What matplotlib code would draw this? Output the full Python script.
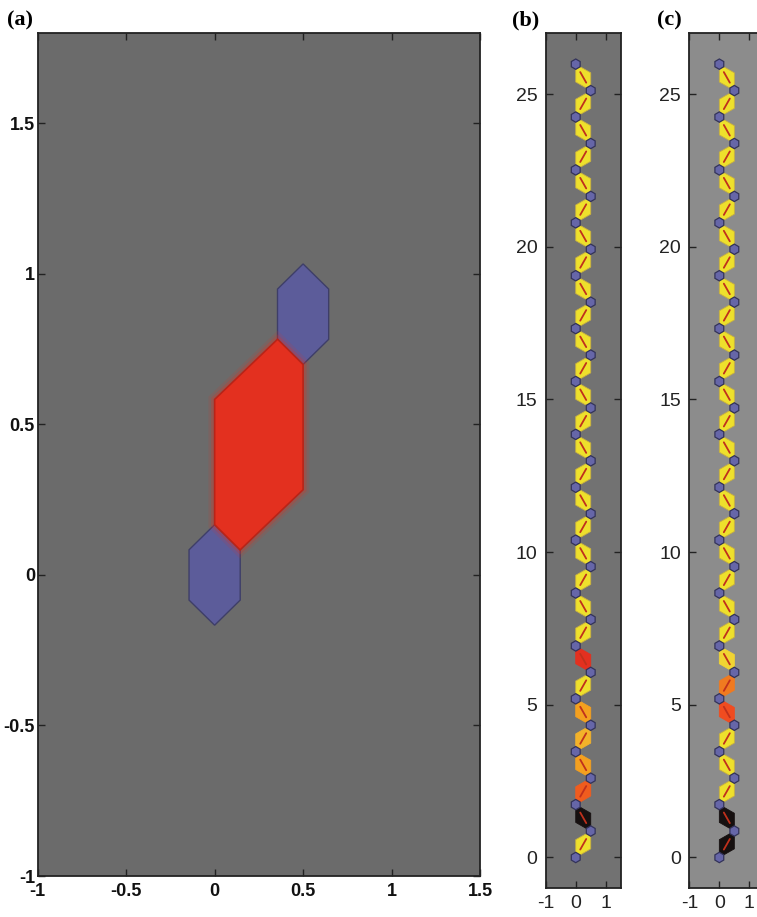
import numpy as np
import matplotlib.pyplot as plt
from matplotlib.patches import Polygon, RegularPolygon

plt.rcParams['axes.unicode_minus'] = False

# one bond goes from a site at the origin to the site at (0.5, 0.866)
bond_dx = 0.5
bond_dy = 0.866
site_r = 0.17
# elongated hexagon drawn round one bond
bond_hex_x = [0.0, 0.144, 0.5, 0.5, 0.356, 0.0]
bond_hex_y = [0.167, 0.083, 0.283, 0.699, 0.783, 0.583]

n_sites = 31

Y = '#eee02c'
K = '#161010'
R = '#e3301f'
OR = '#f05c1e'
O = '#f4a01f'
LO = '#f3b22a'

# bond colours, bottom to top
colors_b = [Y, K, OR, O, LO, O, Y, R] + [Y] * 22
colors_c = [K, K, Y, Y, Y, '#f04c20', '#f07a20', '#f1d432'] + [Y] * 22

xticks_a = [-1, -0.5, 0, 0.5, 1, 1.5]
xtick_labels_a = ['-1', '-0.5', '0', '0.5', '1', '1.5']
yticks_a = [-1, -0.5, 0, 0.5, 1, 1.5]
ytick_labels_a = ['-1', '-0.5', '0', '0.5', '1', '1.5']

xticks_bc = [-1, 0, 1]
yticks_bc = [0, 5, 10, 15, 20, 25]

BLUE = '#5c5c9a'
BLUE_EDGE = '#3e3e68'


def bond_polygon(x0, y0, up_right, **kw):
    hx = np.array(bond_hex_x)
    hy = np.array(bond_hex_y)
    xs = x0 + hx if up_right else x0 - hx
    return Polygon(np.column_stack([xs, y0 + hy]), closed=True, **kw)


def style_axes(ax, bg):
    ax.set_facecolor(bg)
    ax.tick_params(direction='in', top=True, right=True, length=5, width=1,
                   color='#222222')
    for s in ax.spines.values():
        s.set_color('#222222')
        s.set_linewidth(1.3)


fig = plt.figure(figsize=(7.57, 9.17), dpi=100)

# ---------- panel (a) ----------
ax_a = fig.add_axes([0.0498, 0.0447, 0.5843, 0.9193])
style_axes(ax_a, '#6b6b6b')
ax_a.set_xlim(-1, 1.5)
ax_a.set_ylim(-1, 1.8)

for (cx, cy) in [(0, 0), (bond_dx, bond_dy)]:
    ax_a.add_patch(RegularPolygon((cx, cy), 6, radius=0.167, orientation=0,
                                  facecolor=BLUE, edgecolor=BLUE_EDGE, lw=1))
# soft glow then the red bond
for lw, al in [(9, 0.12), (5, 0.25)]:
    ax_a.add_patch(bond_polygon(0, 0, True, facecolor='none',
                                edgecolor=R, lw=lw, alpha=al))
ax_a.add_patch(bond_polygon(0, 0, True, facecolor=R, edgecolor='#b82418', lw=1.2))

ax_a.set_xticks(xticks_a)
ax_a.set_xticklabels(xtick_labels_a)
ax_a.set_yticks(yticks_a)
ax_a.set_yticklabels(ytick_labels_a)
for lab in ax_a.get_xticklabels() + ax_a.get_yticklabels():
    lab.set_family(['Liberation Sans', 'DejaVu Sans'])
    lab.set_weight('bold')
    lab.set_size(13)
    lab.set_color('#111111')
ax_a.tick_params(axis='y', pad=2)
ax_a.tick_params(axis='x', pad=5)


# ---------- panels (b) and (c) ----------
def draw_chain(ax, colors):
    site_x = [0.0 if k % 2 == 0 else bond_dx for k in range(n_sites)]
    site_y = [k * bond_dy for k in range(n_sites)]
    for k, col in enumerate(colors):
        up_right = (k % 2 == 0)
        ax.add_patch(bond_polygon(site_x[k], site_y[k], up_right,
                                  facecolor=col, edgecolor='#c8b040' if col == Y else col,
                                  lw=0.6, zorder=2))
        x1, y1 = site_x[k], site_y[k]
        x2, y2 = site_x[k + 1], site_y[k + 1]
        ax.plot([x1 + 0.3 * (x2 - x1), x1 + 0.7 * (x2 - x1)],
                [y1 + 0.3 * (y2 - y1), y1 + 0.7 * (y2 - y1)],
                color='#c0301c', lw=1.3, zorder=3, solid_capstyle='round')
    for x, y in zip(site_x, site_y):
        ax.add_patch(RegularPolygon((x, y), 6, radius=site_r, orientation=0,
                                    facecolor='#6666a8', edgecolor='#33335a',
                                    lw=0.9, zorder=4))
    ax.set_xlim(-1, 1.5)
    ax.set_ylim(-1, 27)
    ax.set_xticks(xticks_bc)
    ax.set_yticks(yticks_bc)
    for lab in ax.get_xticklabels() + ax.get_yticklabels():
        lab.set_family(['Liberation Sans', 'DejaVu Sans'])
        lab.set_size(14)
        lab.set_color('#222222')
    ax.tick_params(axis='y', pad=6)
    ax.tick_params(axis='x', pad=5)


ax_b = fig.add_axes([0.7209, 0.0316, 0.0991, 0.9324])
style_axes(ax_b, '#727272')
draw_chain(ax_b, colors_b)

ax_c = fig.add_axes([0.9106, 0.0316, 0.0991, 0.9324])
style_axes(ax_c, '#8c8c8c')
draw_chain(ax_c, colors_c)

for x, s in [(0.009, '(a)'), (0.677, '(b)'), (0.868, '(c)')]:
    fig.text(x, 0.978, s, family=['Liberation Serif', 'DejaVu Serif'],
             weight='bold', size=16, va='center', ha='left')

fig.savefig('out.png', dpi=100)
